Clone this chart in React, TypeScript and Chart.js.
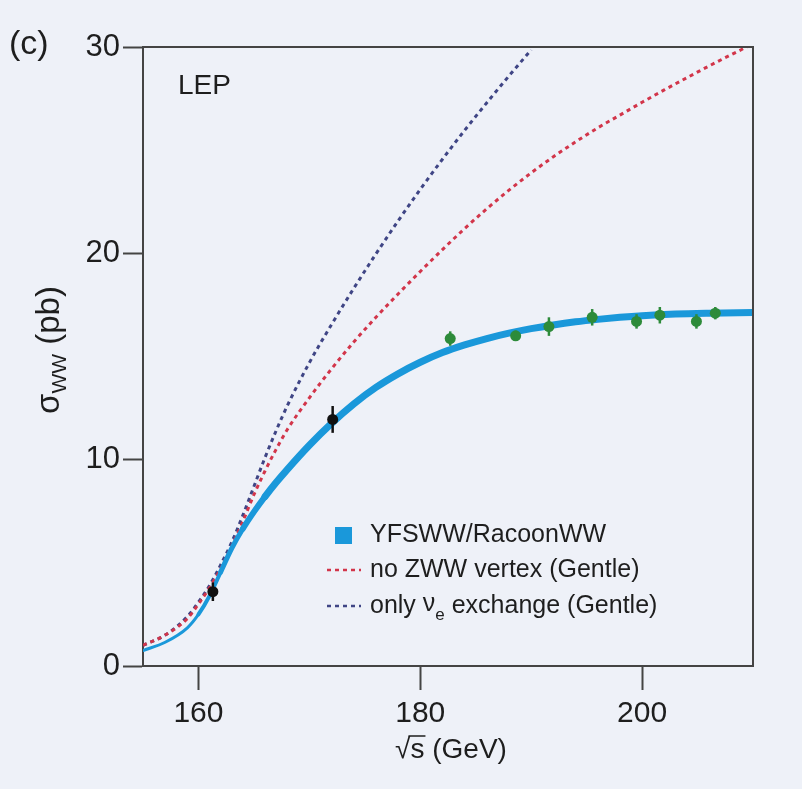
import React, { useEffect, useRef } from 'react';
import { Chart, registerables } from 'chart.js';

Chart.register(...registerables);

// ---- Data ----
const xTickValues = [160, 180, 200];
const yTickValues = [0, 10, 20, 30];

// YFSWW / RacoonWW prediction (pb)
const racoonEnergy = [155, 157, 159, 160, 161, 162, 163, 164, 165, 166, 167, 168, 170, 172, 174, 176, 178, 180, 182, 184, 186, 188, 190, 192, 194, 196, 198, 200, 203, 206, 210];
const racoonXsec = [0.75, 1.15, 1.85, 2.5, 3.4, 4.55, 5.7, 6.65, 7.47, 8.21, 8.89, 9.52, 10.7, 11.76, 12.7, 13.5, 14.16, 14.72, 15.19, 15.56, 15.87, 16.13, 16.35, 16.53, 16.68, 16.8, 16.9, 16.98, 17.06, 17.1, 17.13];

// no ZWW vertex (Gentle)
const noZwwEnergy = [155, 157, 159, 160, 161, 162, 163, 164, 165, 166, 167, 168, 170, 172, 174, 176, 178, 180, 182, 184, 186, 188, 190, 192, 194, 196, 198, 200, 202, 204, 206, 208, 210];
const noZwwXsec = [1.0, 1.5, 2.3, 3.0, 3.8, 4.7, 5.8, 7.0, 8.3, 9.45, 10.5, 11.45, 13.0, 14.4, 15.7, 16.9, 18.03, 19.12, 20.18, 21.2, 22.16, 23.06, 23.9, 24.68, 25.4, 26.08, 26.7, 27.32, 27.92, 28.5, 29.07, 29.62, 30.15];

// only nu_e exchange (Gentle)
const nueEnergy = [155, 157, 159, 160, 161, 162, 163, 164, 165, 166, 167, 168, 170, 172, 174, 176, 178, 180, 182, 184, 186, 188, 190];
const nueXsec = [1.0, 1.5, 2.4, 3.1, 3.9, 4.9, 6.0, 7.3, 8.7, 10.1, 11.4, 12.6, 14.7, 16.55, 18.3, 19.97, 21.57, 23.1, 24.56, 25.96, 27.3, 28.6, 29.86];

// LEP measurements
const lepEarlyEnergy = [161.3, 172.1];
const lepEarlyXsec = [3.6, 11.95];
const lepEarlyErr = [0.45, 0.65];

const lepEnergy = [182.7, 188.6, 191.6, 195.5, 199.5, 201.6, 204.9, 206.6];
const lepXsec = [15.87, 16.0, 16.45, 16.9, 16.7, 17.0, 16.7, 17.1];
const lepErr = [0.35, 0.25, 0.45, 0.4, 0.35, 0.4, 0.35, 0.3];

const legendLabels = ['YFSWW/RacoonWW', 'no ZWW vertex (Gentle)', 'only ', ' exchange (Gentle)'];

// ---- Style ----
const FONT = '"Liberation Sans", Arial, sans-serif';
const BG = '#eef1f8';
const TEXT = '#1e1e1e';
const AXIS = '#444444';
const BLUE = '#1a98da';
const RED = '#d2354a';
const PURPLE = '#3f4585';
const GREEN = '#2d8b3a';
const BLACK = '#111111';

const toXY = (xs: number[], ys: number[]) => xs.map((x, i) => ({ x, y: ys[i] }));

const bgPlugin = {
  id: 'bg',
  beforeDraw(chart: any) {
    const { ctx, width, height } = chart;
    ctx.save();
    ctx.fillStyle = BG;
    ctx.fillRect(0, 0, width, height);
    ctx.restore();
  },
};

const errorBarPlugin = {
  id: 'errorBars',
  afterDatasetsDraw(chart: any) {
    const { ctx } = chart;
    const ys = chart.scales.y;
    chart.data.datasets.forEach((ds: any, di: number) => {
      if (!ds.errors) return;
      const meta = chart.getDatasetMeta(di);
      ctx.save();
      ctx.strokeStyle = ds.pointBackgroundColor;
      ctx.lineWidth = 2.5;
      meta.data.forEach((pt: any, i: number) => {
        const v = ds.data[i].y;
        const e = ds.errors[i];
        ctx.beginPath();
        ctx.moveTo(pt.x, ys.getPixelForValue(v - e));
        ctx.lineTo(pt.x, ys.getPixelForValue(v + e));
        ctx.stroke();
      });
      ctx.restore();
    });
  },
};

const annotationPlugin = {
  id: 'annotations',
  afterDraw(chart: any) {
    const { ctx, chartArea: a } = chart;
    ctx.save();
    // frame top & right
    ctx.strokeStyle = AXIS;
    ctx.lineWidth = 2;
    ctx.beginPath();
    ctx.moveTo(a.left, a.top);
    ctx.lineTo(a.right, a.top);
    ctx.lineTo(a.right, a.bottom);
    ctx.stroke();

    ctx.fillStyle = TEXT;
    ctx.textBaseline = 'middle';
    ctx.textAlign = 'left';

    // panel label
    ctx.font = `34px ${FONT}`;
    ctx.fillText('(c)', 9, a.top - 2);

    // LEP
    ctx.font = `28px ${FONT}`;
    ctx.fillText('LEP', a.left + 35, a.top + 39);

    // legend
    const lx = 335;
    const tx = 370;
    const rows = [535, 570, 606];
    ctx.fillStyle = BLUE;
    ctx.fillRect(lx, rows[0] - 8, 17, 17);
    ctx.lineWidth = 2.5;
    ctx.setLineDash([4, 4]);
    ctx.strokeStyle = RED;
    ctx.beginPath();
    ctx.moveTo(lx - 8, rows[1]);
    ctx.lineTo(lx + 26, rows[1]);
    ctx.stroke();
    ctx.strokeStyle = PURPLE;
    ctx.beginPath();
    ctx.moveTo(lx - 8, rows[2]);
    ctx.lineTo(lx + 26, rows[2]);
    ctx.stroke();
    ctx.setLineDash([]);

    ctx.fillStyle = TEXT;
    ctx.font = `25px ${FONT}`;
    ctx.fillText(legendLabels[0], tx, rows[0]);
    ctx.fillText(legendLabels[1], tx, rows[1]);
    let x = tx;
    ctx.fillText(legendLabels[2], x, rows[2]);
    x += ctx.measureText(legendLabels[2]).width;
    ctx.fillText('\u03bd', x, rows[2] - 2);
    x += ctx.measureText('\u03bd').width;
    ctx.font = `17px ${FONT}`;
    ctx.fillText('e', x, rows[2] + 9);
    x += ctx.measureText('e').width;
    ctx.font = `25px ${FONT}`;
    ctx.fillText(legendLabels[3], x, rows[2]);

    // y axis title: sigma_WW (pb)
    ctx.save();
    ctx.translate(50, 350);
    ctx.rotate(-Math.PI / 2);
    ctx.font = `33px ${FONT}`;
    const s1 = '\u03c3';
    const s3 = ' (pb)';
    const w1 = ctx.measureText(s1).width;
    const w3 = ctx.measureText(s3).width;
    ctx.font = `21px ${FONT}`;
    const w2 = ctx.measureText('WW').width;
    let yx = -(w1 + w2 + w3) / 2;
    ctx.font = `33px ${FONT}`;
    ctx.fillText(s1, yx, 0);
    yx += w1;
    ctx.font = `21px ${FONT}`;
    ctx.fillText('WW', yx, 10);
    yx += w2;
    ctx.font = `33px ${FONT}`;
    ctx.fillText(s3, yx, 0);
    ctx.restore();

    // x axis title: sqrt(s) (GeV)
    ctx.font = `28px ${FONT}`;
    const r = '\u221a';
    const sTxt = 's';
    const rest = ' (GeV)';
    const wr = ctx.measureText(r).width;
    const ws = ctx.measureText(sTxt).width;
    const wrest = ctx.measureText(rest).width;
    const cx = 451;
    const cy = 750;
    const xx = cx - (wr + ws + wrest) / 2;
    ctx.fillText(r, xx, cy);
    ctx.fillText(sTxt, xx + wr, cy);
    ctx.fillText(rest, xx + wr + ws, cy);
    ctx.strokeStyle = TEXT;
    ctx.lineWidth = 1.5;
    ctx.beginPath();
    ctx.moveTo(xx + wr - 2, cy - 14);
    ctx.lineTo(xx + wr + ws + 1, cy - 14);
    ctx.stroke();

    ctx.restore();
  },
};

const blueWidth = (c: any) => {
  const xv = c.p0.parsed.x;
  if (xv < 160) return 3;
  if (xv < 162) return 4;
  if (xv < 164) return 5;
  if (xv < 166) return 6;
  return 7;
};

export default function App() {
  const canvasRef = useRef<HTMLCanvasElement | null>(null);

  useEffect(() => {
    if (!canvasRef.current) return;
    const chart = new Chart(canvasRef.current, {
      type: 'scatter',
      data: {
        datasets: [
          {
            label: 'LEP early',
            data: toXY(lepEarlyEnergy, lepEarlyXsec),
            errors: lepEarlyErr,
            pointRadius: 5.5,
            pointBackgroundColor: BLACK,
            pointBorderWidth: 0,
            showLine: false,
            order: 0,
          } as any,
          {
            label: 'LEP',
            data: toXY(lepEnergy, lepXsec),
            errors: lepErr,
            pointRadius: 5.5,
            pointBackgroundColor: GREEN,
            pointBorderWidth: 0,
            showLine: false,
            order: 0,
          } as any,
          {
            label: legendLabels[0],
            data: toXY(racoonEnergy, racoonXsec),
            showLine: true,
            borderColor: BLUE,
            borderWidth: 7,
            borderCapStyle: 'round',
            borderJoinStyle: 'round',
            segment: { borderWidth: blueWidth },
            pointRadius: 0,
            cubicInterpolationMode: 'monotone',
            order: 1,
          },
          {
            label: legendLabels[1],
            data: toXY(noZwwEnergy, noZwwXsec),
            showLine: true,
            borderColor: RED,
            borderWidth: 3,
            borderDash: [4, 4],
            pointRadius: 0,
            cubicInterpolationMode: 'monotone',
            order: 2,
          },
          {
            label: 'only \u03bde exchange (Gentle)',
            data: toXY(nueEnergy, nueXsec),
            showLine: true,
            borderColor: PURPLE,
            borderWidth: 3,
            borderDash: [4, 4],
            pointRadius: 0,
            cubicInterpolationMode: 'monotone',
            order: 2,
          },
        ],
      },
      options: {
        animation: false,
        responsive: false,
        layout: { padding: { top: 47, right: 49, left: 0, bottom: 0 } },
        plugins: { legend: { display: false }, tooltip: { enabled: false } },
        scales: {
          x: {
            type: 'linear',
            min: 155,
            max: 210,
            afterBuildTicks: (s: any) => {
              s.ticks = xTickValues.map((v) => ({ value: v }));
            },
            afterFit: (s: any) => {
              s.height = 123;
            },
            grid: { drawOnChartArea: false, drawTicks: true, tickLength: 24, tickColor: AXIS, tickWidth: 2 },
            border: { display: true, color: AXIS, width: 2 },
            ticks: { font: { family: FONT, size: 30 }, color: TEXT, padding: 6, maxRotation: 0 },
          },
          y: {
            type: 'linear',
            min: 0,
            max: 30,
            afterBuildTicks: (s: any) => {
              s.ticks = yTickValues.map((v) => ({ value: v }));
            },
            afterFit: (s: any) => {
              s.width = 143;
            },
            grid: { drawOnChartArea: false, drawTicks: true, tickLength: 20, tickColor: AXIS, tickWidth: 2 },
            border: { display: true, color: AXIS, width: 2 },
            ticks: { font: { family: FONT, size: 31 }, color: TEXT, padding: 3 },
          },
        },
      },
      plugins: [bgPlugin, errorBarPlugin, annotationPlugin],
    } as any);
    return () => chart.destroy();
  }, []);

  return (
    <div style={{ position: 'fixed', left: 0, top: 0, width: 802, height: 789, background: BG }}>
      <canvas ref={canvasRef} width={802} height={789} style={{ display: 'block' }} />
    </div>
  );
}
